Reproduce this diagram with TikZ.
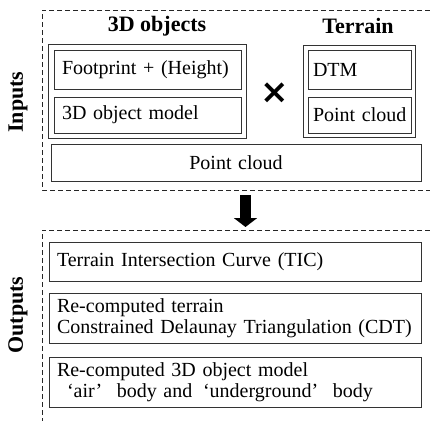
\documentclass[tikz,border=0pt]{standalone}
\usepackage{fontspec}
\setmainfont{Liberation Serif}
\newfontfamily\symfont{DejaVu Sans}
\usetikzlibrary{positioning}
\usetikzlibrary{fit}
\usetikzlibrary{arrows.meta}

\begin{document}
\begin{tikzpicture}[x=1pt, y=-1pt,
        nodes={font=\fontsize{20}{21}\selectfont, inner ysep=0pt},
        box_style/.style={rectangle, draw=black!80, line width=1pt, inner xsep=8pt, align=left},
        wide_style/.style={box_style, text width=356pt},
        head_style/.style={font=\fontsize{22}{24}\selectfont\bfseries},
        frame_style/.style={draw=black!85, line width=1pt, dash pattern=on 5pt off 3pt},
      node distance=7pt]

      \useasboundingbox (0,0) rectangle (430,421);

      % inputs
      \draw[frame_style] (430,10) -| (42,190) -- (430,190);
      \node[head_style, rotate=90] (inputs) at (18,102) {Inputs};
      \node[head_style] (obj_head) at (157,26) {3D objects};
      \node[head_style] (ter_head) at (358,26) {Terrain};

      \node[box_style, text width=171pt, minimum height=39pt] (footprint) at (147.5,69.5) {Footprint + (Height)};
      \node[box_style, text width=171pt, minimum height=36pt, below=of footprint] (obj_model) {3D object model};
      \node[box_style, fit=(footprint)(obj_model), inner sep=5pt] (objects) {};

      \node[box_style, inner xsep=5pt, text width=93pt, minimum height=39pt] (dtm) at (359.5,69.5) {DTM};
      \node[box_style, inner xsep=5pt, text width=93pt, minimum height=36pt, below=of dtm] (ter_cloud) {\mbox{Point cloud}};
      \node[box_style, fit=(dtm)(ter_cloud), inner sep=4pt] (terrain) {};

      \node[font=\symfont\bfseries\fontsize{34}{34}\selectfont] (cross) at (275,93) {×};

      \node[box_style, text width=354pt, minimum height=37pt, align=center] (point_cloud) at (236,162.5) {Point cloud};

      % arrow
      \coordinate (in_south) at (245.5,195);
      \coordinate (out_north) at (245.5,227);
      \draw[line width=11pt, -{Triangle[width=23pt, length=9pt]}] (in_south) -- (out_north);

      % outputs
      \draw[frame_style] (430,230) -| (42,421);
      \node[head_style, rotate=90] (outputs) at (18,315) {Outputs};

      \node[wide_style, minimum height=39pt] (tic) at (235,261.5) {Terrain Intersection Curve (TIC)};
      \node[wide_style, minimum height=50pt] (cdt) at (235,318) {Re-computed terrain\\Constrained Delaunay Triangulation (CDT)};
      \node[wide_style, minimum height=50pt] (new_model) at (235,382) {Re-computed 3D object model\\\hspace*{10pt}‘air’\hspace{8pt} body and\hspace{4pt} ‘underground’\hspace{8pt} body};
    \end{tikzpicture}
\end{document}
